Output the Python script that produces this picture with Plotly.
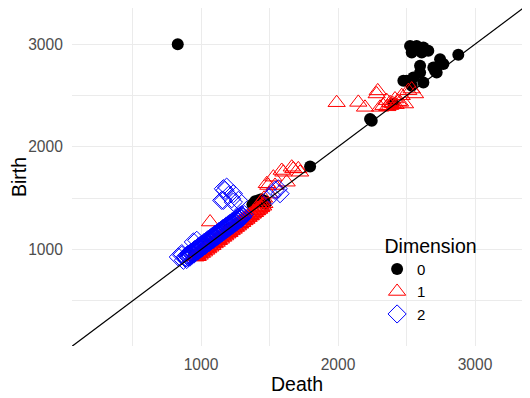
import plotly.graph_objects as go

# persistence points: Death (x) / Birth (y) per homology dimension
death0 = [830, 2526, 2574, 2550, 2623, 2659, 2538, 2611, 2878, 2599, 2745, 2769,
          2696, 2720, 2599, 2708, 2501, 2550, 2623, 2477, 2538, 2404, 2234, 2246,
          1796, 1375, 1395, 1420, 1440, 1460, 1470, 1410, 1200, 1050, 950]
birth0 = [3000, 2983, 2983, 2967, 2967, 2935, 2919, 2919, 2896, 2789, 2854, 2806,
          2773, 2724, 2724, 2740, 2644, 2676, 2627, 2644, 2595, 2417, 2272, 2255,
          1809, 1440, 1470, 1480, 1490, 1475, 1445, 1455, 1200, 1050, 950]

death1 = [950, 966, 981, 997, 1012, 1028, 1043, 1059, 1074, 1090, 1105, 1121,
          1136, 1152, 1167, 1183, 1198, 1214, 1229, 1245, 1260, 1276, 1291, 1307,
          1322, 1338, 1353, 1369, 1384, 1400, 1415, 1431, 1446, 1462,
          958, 973, 989, 1004, 1020, 1035, 1051, 1066, 1082, 1097, 1113, 1128,
          1144, 1159, 1175, 1190, 1206, 1221, 1237, 1252, 1268, 1283, 1299, 1314,
          1330, 1345, 1361, 1376, 1392, 1407, 1423, 1438, 1454,
          975, 990, 1006, 1021, 1037, 1052, 1068, 1083, 1099, 1114, 1130, 1145,
          1161, 1176, 1192, 1207, 1223, 1238, 1254, 1269, 1285, 1300, 1316, 1331,
          1347, 1362, 1378, 1393, 1409, 1424, 1440,
          1440, 1460, 1500, 1066, 1480, 1491, 1528, 1540, 1589, 1601, 1625, 1662,
          1674, 1710, 1723, 1990, 2148, 2197, 2282, 2290, 2307, 2331, 2355, 2360,
          2380, 2380, 2400, 2416, 2420, 2440, 2453, 2465, 2489, 2513, 2538, 2562]
birth1 = [936, 950, 967, 981, 998, 1012, 1029, 1043, 1060, 1074, 1091, 1105,
          1122, 1136, 1153, 1167, 1184, 1198, 1215, 1229, 1246, 1260, 1277, 1291,
          1308, 1322, 1339, 1353, 1370, 1384, 1401, 1415, 1432, 1446,
          926, 941, 957, 972, 988, 1003, 1019, 1034, 1050, 1065, 1081, 1096,
          1112, 1127, 1143, 1158, 1174, 1189, 1205, 1220, 1236, 1251, 1267, 1282,
          1298, 1313, 1329, 1344, 1360, 1375, 1391, 1406, 1422,
          930, 944, 961, 975, 992, 1006, 1023, 1037, 1055, 1069, 1086, 1100,
          1118, 1132, 1150, 1164, 1182, 1196, 1214, 1228, 1246, 1261, 1279, 1293,
          1312, 1326, 1345, 1359, 1378, 1393, 1412,
          1470, 1500, 1540, 1268, 1641, 1624, 1705, 1624, 1770, 1753, 1656, 1802,
          1786, 1786, 1753, 2430, 2433, 2385, 2515, 2545, 2385, 2401, 2450, 2390,
          2401, 2430, 2420, 2466, 2410, 2440, 2433, 2498, 2417, 2547, 2563, 2515]

death2 = [885, 900, 912, 926, 940, 953, 967, 980, 994, 1008, 1021, 1035, 1048,
          1062, 1076, 1090, 1103, 1117, 1130, 1144, 1158, 1171, 1185, 1199, 1212,
          1226, 1240, 1253, 1267, 1281, 1295,
          892, 906, 919, 933, 946, 960, 973, 987, 1001, 1014, 1028, 1041, 1055,
          1069, 1083, 1096, 1110, 1124, 1137, 1151, 1165, 1178, 1192, 1205, 1219,
          1233, 1246, 1260, 1274, 1288, 1302, 1316,
          895, 910, 922, 936, 950, 963, 977, 990, 1004, 1018, 1031, 1045, 1058,
          1072, 1086, 1100, 1113, 1127, 1140, 1154, 1168, 1181, 1195, 1209, 1222,
          1236, 1250, 1263, 1277, 1291, 1305,
          834, 859, 859, 871, 944, 969, 1151, 1163, 1163, 1175, 1187, 1200, 1224,
          1236, 1236, 1273, 1516, 1540, 1564, 1577]
birth2 = [930, 948, 955, 972, 983, 1000, 1010, 1027, 1040, 1052, 1068, 1078, 1095,
          1105, 1122, 1133, 1150, 1160, 1176, 1188, 1204, 1214, 1230, 1242, 1256,
          1270, 1283, 1297, 1310, 1325, 1338,
          918, 930, 945, 957, 972, 984, 999, 1011, 1027, 1038, 1054, 1066, 1081,
          1094, 1109, 1121, 1136, 1149, 1163, 1176, 1191, 1203, 1218, 1230, 1245,
          1258, 1272, 1285, 1300, 1313, 1328, 1341,
          903, 922, 930, 948, 958, 975, 985, 1002, 1013, 1030, 1040, 1057, 1067,
          1084, 1095, 1112, 1122, 1138, 1150, 1165, 1177, 1192, 1204, 1220, 1231,
          1247, 1259, 1274, 1286, 1300, 1315,
          928, 945, 961, 896, 1074, 1090, 1479, 1592, 1479, 1576, 1608, 1527, 1495,
          1544, 1462, 1479, 1527, 1576, 1592, 1544]

diag = [0, 3500]

fig = go.Figure()

fig.add_trace(go.Scatter(x=death0, y=birth0, mode='markers', name='0',
                         marker=dict(symbol='circle', size=12, color='black')))
fig.add_trace(go.Scatter(x=death1, y=birth1, mode='markers', name='1',
                         marker=dict(symbol='triangle-up-open', size=15, color='red',
                                     line=dict(width=1))))
fig.add_trace(go.Scatter(x=death2, y=birth2, mode='markers', name='2',
                         marker=dict(symbol='diamond-open', size=14, color='blue',
                                     line=dict(width=1))))
fig.add_trace(go.Scatter(x=diag, y=diag, mode='lines', showlegend=False,
                         line=dict(color='black', width=1.2), hoverinfo='skip'))

axis_common = dict(
    showgrid=True, gridcolor='#EBEBEB', gridwidth=1.1,
    zeroline=False, showline=False, automargin=False,
    ticks='outside', tickcolor='rgba(0,0,0,0)',
    tickfont=dict(size=15.6, color='#4D4D4D'),
    tickvals=[1000, 2000, 3000],
    minor=dict(tickvals=[500, 1500, 2500], showgrid=True, gridcolor='#EBEBEB',
               gridwidth=0.6, ticks=''),
)

# page body has an 8px default margin, so the figure is shrunk by that much
fig.update_layout(
    width=522, height=390,
    margin=dict(l=64, r=8, t=0, b=52),
    paper_bgcolor='white', plot_bgcolor='white',
    font=dict(family='Liberation Sans, Arial, sans-serif', color='black'),
    xaxis=dict(range=[58, 3343], ticklen=4,
               title=dict(text='Death', font=dict(size=19.5), standoff=0),
               **axis_common),
    yaxis=dict(range=[61, 3352], ticklen=5,
               title=dict(text='Birth', font=dict(size=19.5), standoff=10),
               **axis_common),
    legend=dict(title=dict(text='\u00a0Dimension', font=dict(size=19.5)),
                font=dict(size=15), x=0.678, y=0.351, xanchor='left', yanchor='top',
                bgcolor='rgba(0,0,0,0)', tracegroupgap=0),
)

fig.write_html("out.html")
